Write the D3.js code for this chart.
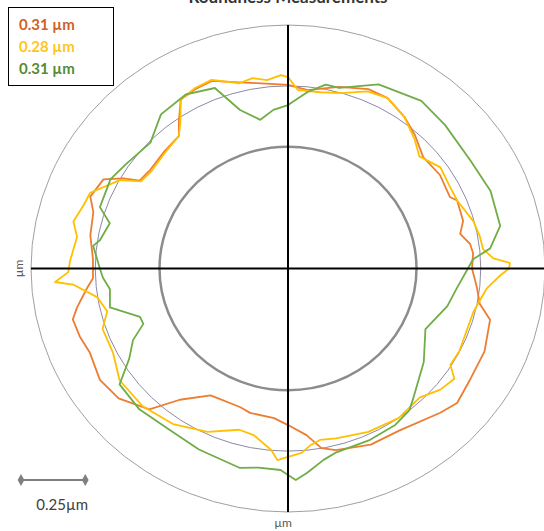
<!DOCTYPE html>
<html>
<head>
<meta charset="utf-8">
<script src="https://cdn.jsdelivr.net/npm/d3@7"></script>
<style>
  body { margin: 0; background: #fff; }
  svg { display: block; font-family: Lato, "Open Sans", sans-serif; }
</style>
</head>
<body>
<svg id="chart" width="544" height="531"></svg>
<script>
"use strict";

// reference rings, in µm
var ringRadii = [0.5, 0.75, 1.0];

var seriesNames = ["0.31 µm", "0.28 µm", "0.31 µm"];
var seriesColors = ["#ED7D31", "#FFC000", "#70AD47"];
var legendColors = ["#CF621F", "#FFC61A", "#558B35"];

// traces as [angle in degrees, radius in µm]
var orangeTrace = [[0,0.716],[5,0.723],[8,0.716],[12,0.685],[16,0.709],[23,0.715],[25,0.695],[33,0.705],
	[41,0.697],[48,0.738],[54,0.77],[61,0.80],[67,0.80],[75,0.772],[80,0.75],[84,0.737],[90,0.754],
	[99,0.771],[104,0.788],[111,0.825],[116,0.82],[121,0.81],[125,0.74],[128,0.69],[135,0.68],
	[143,0.672],[148,0.681],[150,0.74],[153,0.806],[159,0.824],[163,0.792],[170,0.781],[177,0.76],
	[183,0.76],[186,0.787],[191,0.836],[194,0.863],[199,0.857],[204,0.845],[212,0.863],[219,0.848],
	[227,0.791],[232,0.684],[240,0.602],[252,0.599],[256,0.611],[265,0.617],[270,0.643],[276,0.688],
	[280,0.749],[284,0.769],[294,0.792],[303,0.794],[315,0.838],[320,0.859],[327,0.843],[336,0.837],
	[345,0.814],[349,0.76],[354,0.739]];

var yellowTrace = [[0,0.86],[1.5,0.864],[3,0.80],[6,0.763],[10,0.758],[15,0.747],[23,0.715],[28,0.714],
	[35,0.724],[42,0.688],[47,0.723],[54,0.77],[61,0.80],[67,0.79],[74,0.749],[80,0.735],[87,0.734],
	[90,0.786],[92,0.795],[96,0.778],[100,0.794],[104,0.784],[111,0.83],[116,0.825],[121,0.81],
	[125,0.73],[128,0.69],[135,0.675],[143,0.665],[148,0.675],[151,0.748],[158,0.83],[162,0.837],
	[167,0.857],[171,0.831],[178,0.849],[181,0.855],[183.5,0.908],[184.5,0.839],[189,0.752],[194,0.725],
	[199,0.763],[207,0.764],[215,0.80],[225,0.80],[235,0.78],[245,0.74],[254,0.689],[259,0.697],
	[265,0.748],[267,0.788],[270,0.774],[274,0.759],[277,0.73],[280,0.715],[285,0.722],[295,0.74],
	[305,0.75],[314,0.737],[320,0.774],[325,0.79],[328,0.745],[333,0.748],[346,0.743],[350,0.758],
	[354,0.778],[358,0.826]];

var greenTrace = [[0,0.70],[3,0.721],[6,0.791],[12,0.844],[22,0.85],[32,0.837],[44,0.849],[53,0.862],
	[65,0.834],[75,0.768],[79,0.769],[84,0.729],[90,0.671],[95,0.654],[100,0.62],[106,0.677],[111,0.794],
	[119,0.818],[128,0.803],[136,0.744],[146,0.763],[152,0.782],[161,0.774],[165,0.718],[171,0.741],
	[173,0.764],[180,0.732],[183,0.721],[187,0.698],[193,0.711],[199,0.609],[202,0.607],[206,0.671],
	[211,0.721],[216,0.81],[225,0.818],[235,0.807],[245,0.82],[257,0.84],[262,0.826],[268,0.828],
	[270,0.848],[272,0.869],[275,0.843],[280,0.798],[284,0.778],[294,0.773],[303,0.766],[309,0.75],
	[313,0.718],[324,0.653],[335,0.59],[346,0.639],[353,0.662]];

var traces = [orangeTrace, yellowTrace, greenTrace];
var scaleBarValue = 0.25;

var svg = d3.select("#chart");

var cx = 288, cy = 268.5;
var x = d3.scaleLinear().domain([-1, 1]).range([cx - 257, cx + 257]);
var y = d3.scaleLinear().domain([-1, 1]).range([cy + 243.5, cy - 243.5]);

function px(d) { return x(d[1] * Math.cos(d[0] * Math.PI / 180)); }
function py(d) { return y(d[1] * Math.sin(d[0] * Math.PI / 180)); }

// title, mostly above the top edge
svg.append("text")
	.attr("x", cx).attr("y", 3)
	.attr("text-anchor", "middle")
	.attr("font-size", 17).attr("font-weight", "bold")
	.attr("fill", "#333")
	.text("Roundness Measurements");

// rings
var ringStyle = [
	{ stroke: "#8c8c8c", width: 2.5 },
	{ stroke: "#8a8aa6", width: 1 },
	{ stroke: "#a0a0a0", width: 1 }
];
svg.selectAll(".ring")
	.data(ringRadii)
	.enter().append("ellipse")
	.attr("class", "ring")
	.attr("cx", x(0)).attr("cy", y(0))
	.attr("rx", function(r) { return x(r) - x(0); })
	.attr("ry", function(r) { return y(0) - y(r); })
	.attr("fill", "none")
	.attr("stroke", function(r, i) { return ringStyle[i].stroke; })
	.attr("stroke-width", function(r, i) { return ringStyle[i].width; });

// traces
var line = d3.line().x(px).y(py).curve(d3.curveLinearClosed);
svg.selectAll(".trace")
	.data(traces)
	.enter().append("path")
	.attr("class", "trace")
	.attr("d", line)
	.attr("fill", "none")
	.attr("stroke", function(d, i) { return seriesColors[i]; })
	.attr("stroke-width", 1.8)
	.attr("stroke-linejoin", "round");

// axes cross
svg.append("line")
	.attr("x1", x(-1)).attr("x2", x(1))
	.attr("y1", y(0)).attr("y2", y(0))
	.attr("stroke", "#000").attr("stroke-width", 2);
svg.append("line")
	.attr("x1", x(0)).attr("x2", x(0))
	.attr("y1", y(1)).attr("y2", y(-1))
	.attr("stroke", "#000").attr("stroke-width", 2);

// axis unit labels
svg.append("text")
	.attr("transform", "translate(23," + y(0) + ") rotate(-90)")
	.attr("text-anchor", "middle")
	.attr("font-size", 12).attr("fill", "#595959")
	.text("µm");
svg.append("text")
	.attr("x", x(0) - 5).attr("y", 527)
	.attr("text-anchor", "middle")
	.attr("font-size", 12).attr("fill", "#595959")
	.text("µm");

// legend
var legend = svg.append("g");
legend.append("rect")
	.attr("x", 8.5).attr("y", 7.5)
	.attr("width", 105).attr("height", 78)
	.attr("fill", "#fff").attr("stroke", "#000").attr("stroke-width", 1);
legend.selectAll("text")
	.data(seriesNames)
	.enter().append("text")
	.attr("x", 19)
	.attr("y", function(d, i) { return 30 + i * 22; })
	.attr("font-size", 15).attr("font-weight", "bold")
	.attr("fill", function(d, i) { return legendColors[i]; })
	.text(function(d) { return d; });

// scale bar
var barLen = x(scaleBarValue) - x(0);
var bar = svg.append("g").attr("transform", "translate(21,480)");
bar.append("line")
	.attr("x1", 0).attr("x2", barLen)
	.attr("stroke", "#7f7f7f").attr("stroke-width", 2);
bar.selectAll("path")
	.data([0, barLen])
	.enter().append("path")
	.attr("d", d3.symbol().type(d3.symbolDiamond).size(40))
	.attr("transform", function(d) { return "translate(" + d + ",0)"; })
	.attr("fill", "#7f7f7f");
bar.append("text")
	.attr("x", barLen / 2 + 9).attr("y", 30)
	.attr("text-anchor", "middle")
	.attr("font-size", 15).attr("fill", "#404040")
	.text(scaleBarValue + "µm");
</script>
</body>
</html>
